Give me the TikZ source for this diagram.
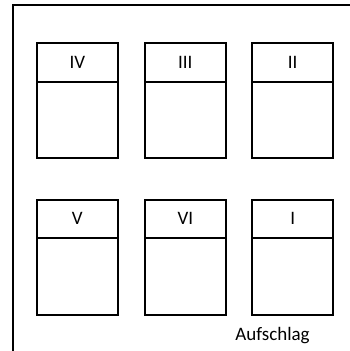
\documentclass[tikz,border=0pt]{standalone}
\usepackage{fontspec}
\setmainfont{Carlito}
\usetikzlibrary{positioning}

\begin{document}
\begin{tikzpicture}[x=1pt,y=-1pt,line width=2pt,
  every node/.style={font=\fontsize{19}{22}\selectfont},
  kopf/.style={draw,outer sep=0pt,inner sep=0pt,minimum width=80.7pt,minimum height=38.4pt},
  feld/.style={draw,outer sep=0pt,inner sep=0pt,minimum width=80.7pt,minimum height=76.6pt}]
  \useasboundingbox (0,0) rectangle (349,351);
  % Rand (links und oben)
  \coordinate (r0) at (13,352);
  \coordinate (r1) at (13,5);
  \coordinate (r2) at (350,5);
  \draw (r0)--(r1)--(r2);
  % Felder
  \foreach \n/\x/\y in {IV/77.3/62.5,III/185.3/62.5,II/292.7/62.5,V/77.3/218.7,VI/185.3/218.7,I/292.7/218.7}{
    \node[kopf] (k\n) at (\x,\y) {\n};
    \node[feld,below=0pt of k\n] (f\n) {};
  }
  \node[anchor=base] (aufschlag) at (272.5,340) {Aufschlag};
\end{tikzpicture}
\end{document}
